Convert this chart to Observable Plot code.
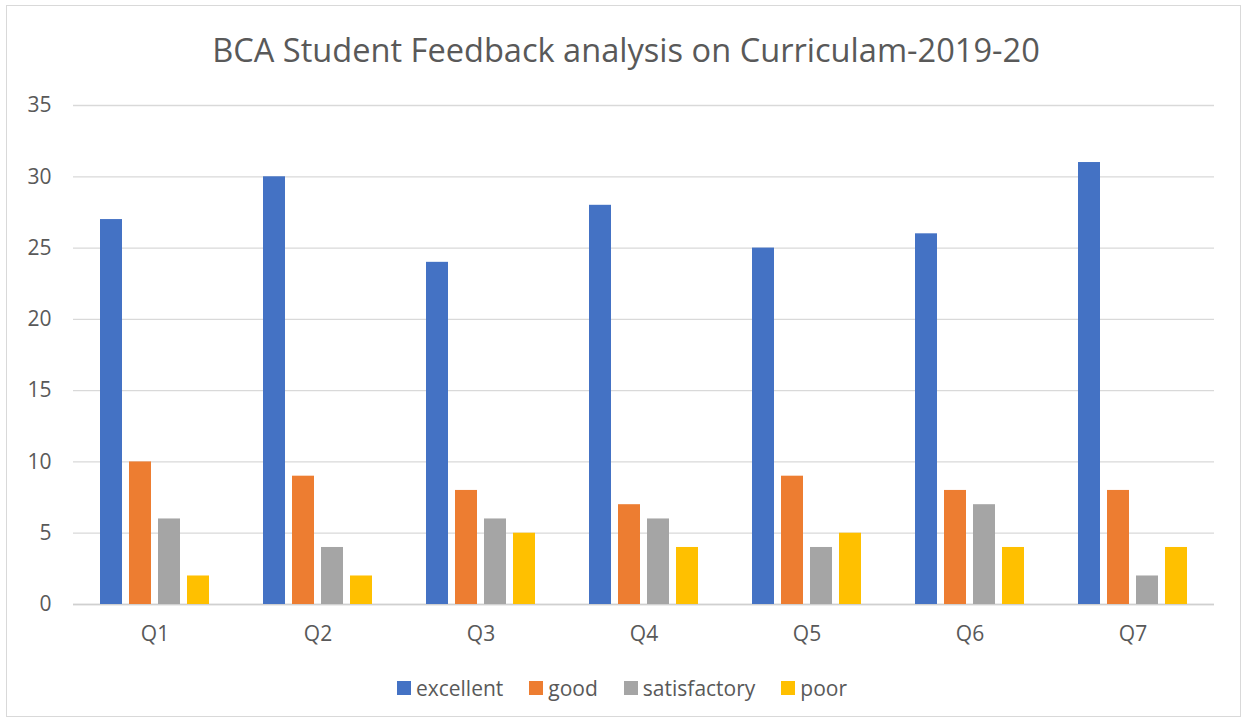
<!DOCTYPE html>
<html>
<head>
<meta charset="utf-8">
<script src="https://cdn.jsdelivr.net/npm/d3@7"></script>
<script src="https://cdn.jsdelivr.net/npm/@observablehq/plot@0.6"></script>
<style>
  html, body { margin: 0; padding: 0; background: #fff; }
  #wrap { position: relative; width: 1244px; height: 723px; overflow: hidden; font-family: "Open Sans", sans-serif; color: #595959; }
  #frame { position: absolute; left: 6px; top: 5px; width: 1235px; height: 712px; border: 1px solid #d9d9d9; box-sizing: border-box; }
  #title { position: absolute; left: 4px; top: 27px; width: 1244px; text-align: center; font-size: 32.6px; line-height: 46px; color: #595959; }
  #chart { position: absolute; left: 0; top: 90px; }
  #legend { position: absolute; left: 0; top: 674px; width: 1244px; display: flex; justify-content: center; gap: 26px; font-size: 21px; line-height: 28px; }
  .item { display: flex; align-items: center; gap: 5px; }
  .sw { width: 14px; height: 14px; display: inline-block; }
</style>
</head>
<body>
<div id="wrap">
  <div id="frame"></div>
  <div id="title"></div>
  <div id="chart"></div>
  <div id="legend"></div>
</div>
<script>
const titleText = "BCA Student Feedback analysis on Curriculam-2019-20";
const questions = ["Q1", "Q2", "Q3", "Q4", "Q5", "Q6", "Q7"];
const series = ["excellent", "good", "satisfactory", "poor"];
const excellent = [27, 30, 24, 28, 25, 26, 31];
const good = [10, 9, 8, 7, 9, 8, 8];
const satisfactory = [6, 4, 6, 6, 4, 7, 2];
const poor = [2, 2, 5, 4, 5, 4, 4];
const yTicks = [0, 5, 10, 15, 20, 25, 30, 35];
const colors = ["#4472C4", "#ED7D31", "#A5A5A5", "#FFC000"];

const valuesBySeries = { excellent, good, satisfactory, poor };
const table = [];
questions.forEach((q, i) => {
  series.forEach(s => table.push({ question: q, series: s, value: valuesBySeries[s][i] }));
});

document.getElementById("title").textContent = titleText;

const chart = Plot.plot({
  width: 1244,
  height: 570,
  marginTop: 15,
  marginBottom: 56,
  marginLeft: 71,
  marginRight: 29,
  style: { fontFamily: "'Open Sans', sans-serif", fontSize: "21px", color: "#595959", background: "transparent" },
  fx: { domain: questions, padding: 0, label: null },
  x: { domain: series, paddingInner: 0.225, paddingOuter: 0.86, axis: null },
  y: { domain: [0, 35], label: null },
  color: { domain: series, range: colors },
  marks: [
    Plot.gridY(yTicks, { stroke: "#d9d9d9", strokeOpacity: 1, strokeWidth: 1.3 }),
    Plot.ruleY([0], { stroke: "#d0d0d0", strokeWidth: 1.3 }),
    Plot.axisY(yTicks, { tickSize: 0, tickPadding: 22, label: null, fill: "#595959", fontSize: 21 }),
    Plot.axisFx({ anchor: "bottom", tickSize: 0, tickPadding: 22, label: null, fill: "#595959", fontSize: 21 }),
    Plot.barY(table, { fx: "question", x: "series", y: "value", fill: "series" })
  ]
});
document.getElementById("chart").appendChild(chart);

const legend = document.getElementById("legend");
series.forEach((s, i) => {
  const item = document.createElement("div");
  item.className = "item";
  const sw = document.createElement("span");
  sw.className = "sw";
  sw.style.background = colors[i];
  const label = document.createElement("span");
  label.textContent = s;
  item.appendChild(sw);
  item.appendChild(label);
  legend.appendChild(item);
});
</script>
</body>
</html>
